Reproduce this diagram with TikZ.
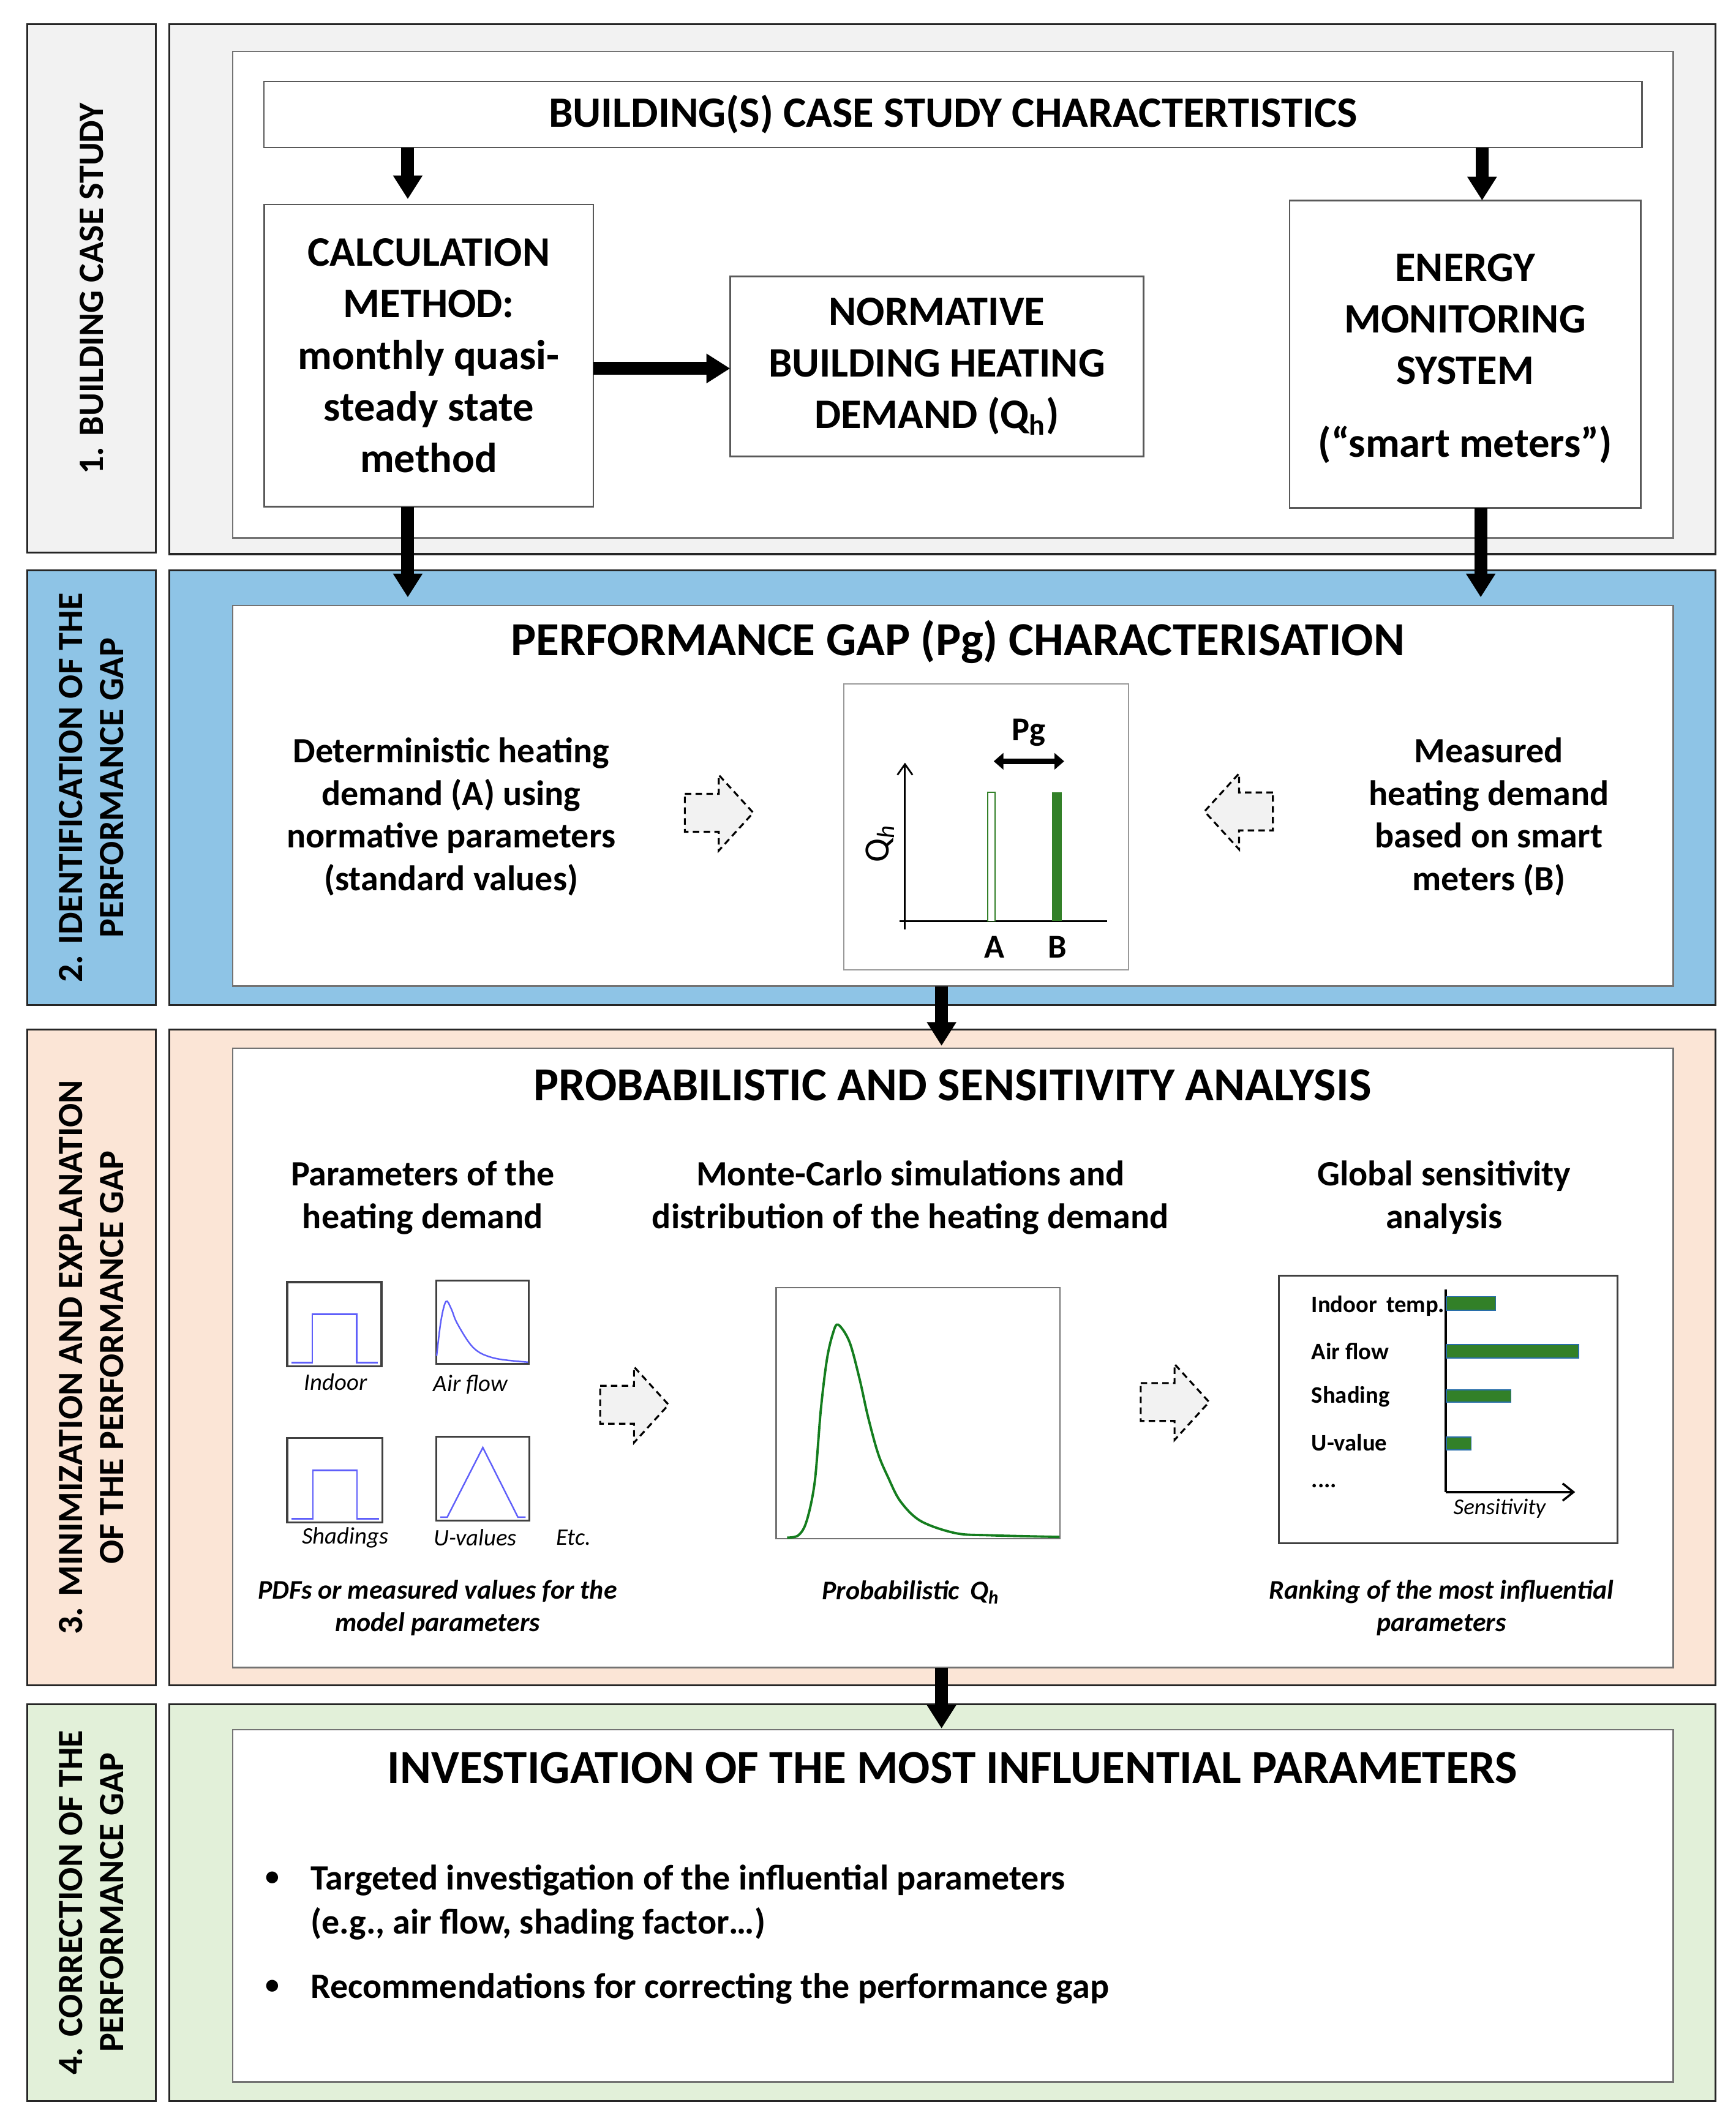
\documentclass[tikz,border=0pt]{standalone}
\usepackage{fontspec}
\setmainfont{Carlito}
\usetikzlibrary{arrows.meta}
\definecolor{panelgray}{RGB}{242,242,242}
\definecolor{panelblue}{RGB}{142,196,230}
\definecolor{panelpeach}{RGB}{251,229,214}
\definecolor{panelgreen}{RGB}{226,240,217}
\definecolor{bargreen}{RGB}{50,128,40}
\definecolor{curvegreen}{RGB}{20,125,30}
\definecolor{pdfblue}{RGB}{95,95,250}
\definecolor{barblue}{RGB}{40,110,170}
\newcommand\fs[2]{\fontsize{#1pt}{#2pt}\selectfont}
\newcommand\rectnode[7]{\node[#2, minimum width={((#5)-(#3))*0.62926pt}, minimum height={((#6)-(#4))*0.62926pt}] (#1) at ({((#3)+(#5))/2},{((#4)+(#6))/2}) {#7};}
\newcommand\blockR[2]{\draw[blockarrow] (#1,#2-14) -- (#1+25,#2-14) -- (#1+25,#2-28) -- (#1+50.5,#2) -- (#1+25,#2+28) -- (#1+25,#2+14) -- (#1,#2+14) -- cycle;}
\newcommand\blockL[2]{\draw[blockarrow] (#1,#2-14) -- (#1-25,#2-14) -- (#1-25,#2-28) -- (#1-50.5,#2) -- (#1-25,#2+28) -- (#1-25,#2+14) -- (#1,#2+14) -- cycle;}
\begin{document}
\begin{tikzpicture}[x=0.022116cm, y=-0.022116cm,
  panel/.style={draw=black!85, line width=0.9pt, inner sep=0pt, outer sep=0pt},
  innerbox/.style={draw=black!55, line width=0.7pt, fill=white, inner sep=0pt, outer sep=0pt},
  sbox/.style={draw=black!65, line width=0.7pt, fill=white, align=center, inner sep=0pt, outer sep=0pt, font=\fs{19.5}{23.9}\bfseries},
  collabel/.style={rotate=90, align=center, font=\fs{16.5}{18.9}\bfseries},
  title/.style={font=\fs{22}{26}\bfseries},
  midtext/.style={align=center, font=\fs{16.5}{19.8}\bfseries},
  caption/.style={align=center, font=\fs{12.5}{15.1}\bfseries\itshape},
  smalllabel/.style={font=\fs{11}{13}\itshape},
  senslabel/.style={anchor=west, font=\fs{11}{13}\bfseries, inner sep=0pt},
  bigarrow/.style={line width=6pt, -{Triangle[width=13pt,length=11pt]}},
  blockarrow/.style={draw=black, fill=panelgray, dashed, line width=0.9pt, dash pattern=on 3pt off 2pt},
  pdfbox/.style={draw=black!75, line width=0.9pt, fill=white, inner sep=0pt, outer sep=0pt},
  pdfline/.style={draw=pdfblue, line width=0.7pt},
  sensbar/.style={draw=barblue, fill=bargreen, line width=0.5pt}
]
\fill[white] (0,0) rectangle (1281,1568);
\useasboundingbox (0,0) rectangle (1281,1568);

% ---------- left label column ----------
\rectnode{lab1}{panel, fill=panelgray}{20}{18}{115}{408}{}
\rectnode{lab2}{panel, fill=panelblue}{20}{421}{115}{742}{}
\rectnode{lab3}{panel, fill=panelpeach}{20}{760}{115}{1244}{}
\rectnode{lab4}{panel, fill=panelgreen}{20}{1258}{115}{1551}{}
\node[collabel] (lab1t) at (lab1.center) {1. BUILDING CASE STUDY};
\node[collabel] (lab2t) at (lab2.center) {2. IDENTIFICATION OF THE\\PERFORMANCE GAP};
\node[collabel] (lab3t) at (lab3.center) {3. MINIMIZATION AND EXPLANATION\\OF THE PERFORMANCE GAP};
\node[collabel] (lab4t) at (lab4.center) {4. CORRECTION OF THE\\PERFORMANCE GAP};

% ---------- panels ----------
\rectnode{pan1}{panel, fill=panelgray}{125}{18}{1266}{409}{}
\rectnode{pan2}{panel, fill=panelblue}{125}{421}{1266}{742}{}
\rectnode{pan3}{panel, fill=panelpeach}{125}{760}{1266}{1244}{}
\rectnode{pan4}{panel, fill=panelgreen}{125}{1258}{1266}{1551}{}
\rectnode{in1}{innerbox}{172}{38}{1235}{397}{}
\rectnode{in2}{innerbox}{172}{447}{1235}{728}{}
\rectnode{in3}{innerbox}{172}{774}{1235}{1231}{}
\rectnode{in4}{innerbox}{172}{1277}{1235}{1537}{}

% ---------- panel 1 ----------
\rectnode{build}{sbox, font=\fs{20.1}{24}\bfseries}{195}{60}{1212}{109}{BUILDING(S) CASE STUDY CHARACTERTISTICS}
\rectnode{calc}{sbox}{195}{151}{438}{374}{CALCULATION\\METHOD:\\monthly quasi-\\steady state\\method}
\rectnode{norm}{sbox}{539}{204}{844}{337}{NORMATIVE\\BUILDING HEATING\\DEMAND (Q\textsubscript{h})}
\rectnode{energy}{sbox}{952}{148}{1211}{375}{\rule{0pt}{17pt}ENERGY\\MONITORING\\SYSTEM\\[10pt](“smart meters”)}

% ---------- panel 2 ----------
\node[title] (t2) at (707,474) {PERFORMANCE GAP (Pg) CHARACTERISATION};
\node[midtext] (det) at (333,603) {Deterministic heating\\demand (A) using\\normative parameters\\(standard values)};
\node[midtext] (meas) at (1099,603) {Measured\\heating demand\\based on smart\\meters (B)};
\blockR{505.5}{600}
\blockL{939.6}{599}
\rectnode{pgchart}{draw=black!40, line width=0.6pt, fill=white, inner sep=0pt, outer sep=0pt}{623}{505}{833}{716}{}
\coordinate (yax0) at (668,686);
\coordinate (yax1) at (668,563);
\coordinate (xax0) at (664,680);
\coordinate (xax1) at (817,680);
\draw[line width=0.8pt, -{Straight Barb[length=5pt,width=7pt]}] (yax0) -- (yax1);
\draw[line width=0.8pt] (xax0) -- (xax1);
\draw[draw=bargreen, line width=0.5pt, fill=white] (729,585) rectangle (734.6,680);
\fill[bargreen] (776.6,585) rectangle (783.6,680);
\coordinate (pgl) at (733.5,562);
\coordinate (pgr) at (785.5,562);
\draw[line width=2.6pt, {Triangle[width=7.5pt,length=4.5pt]}-{Triangle[width=7.5pt,length=4.5pt]}] (pgl) -- (pgr);
\node[font=\fs{15.5}{18}\bfseries] (pg) at (759.5,541) {Pg};
\node[font=\fs{15.5}{18}\bfseries] (la) at (734,699) {A};
\node[font=\fs{15.5}{18}\bfseries] (lb) at (780.5,699) {B};
\node[rotate=90, font=\fs{16.5}{18}] (qh) at (649.5,622.5) {Q\textsubscript{\textit{h}}};

% ---------- panel 3 ----------
\node[title] (t3) at (703,801) {PROBABILISTIC AND SENSITIVITY ANALYSIS};
\node[midtext, font=\fs{16.5}{20}\bfseries] (h1) at (312,884) {Parameters of the\\heating demand};
\node[midtext, font=\fs{16.5}{20}\bfseries] (h2) at (672,884) {Monte-Carlo simulations and\\distribution of the heating demand};
\node[midtext, font=\fs{16.5}{20}\bfseries] (h3) at (1066,884) {Global sensitivity\\analysis};

% PDF boxes
\rectnode{pdfa}{pdfbox}{212}{946.5}{281.6}{1008.8}{}
\draw[pdfline] (215,1006) -- (230.6,1006) -- (230.6,970.3) -- (263.2,970.3) -- (263.2,1006) -- (279,1006);
\rectnode{pdfb}{pdfbox}{322}{945.3}{390.3}{1006.8}{}
\draw[pdfline] plot[smooth, tension=0.6] coordinates {(322.3,1001) (325.5,975) (329.2,960.8) (333,966) (337,976) (345.6,990.3) (352.5,997.5) (361,1001.5) (371.6,1003.8) (389.8,1005.6)};
\rectnode{pdfc}{pdfbox}{212}{1061.5}{282.1}{1123.9}{}
\draw[pdfline] (215,1121.2) -- (231,1121.2) -- (231,1085.5) -- (263.4,1085.5) -- (263.4,1121.2) -- (280,1121.2);
\rectnode{pdfd}{pdfbox}{322}{1060.6}{390.6}{1122.6}{}
\draw[pdfline] (324.9,1120) -- (330.1,1120) -- (356.4,1068.6) -- (382.3,1120) -- (388,1120);
\node[smalllabel] (lia) at (247.8,1020.4) {Indoor};
\node[smalllabel] (lib) at (347.3,1022) {Air flow};
\node[smalllabel] (lic) at (254.8,1135.2) {Shadings};
\node[smalllabel] (lid) at (350.8,1135.2) {U-values};
\node[smalllabel] (lie) at (423.5,1135.2) {Etc.};
\node[caption] (cap1) at (323,1187) {PDFs or measured values for the\\model parameters};

\blockR{443}{1037}
\blockR{842}{1035}

% Monte Carlo chart
\rectnode{mcbox}{draw=black!55, line width=0.7pt, fill=white, inner sep=0pt, outer sep=0pt}{573}{950.5}{782.5}{1135.9}{}
\draw[draw=curvegreen, line width=1.1pt] plot[smooth, tension=0.55] coordinates {(581,1135.1) (589.3,1133.4) (595.4,1122.9) (601.4,1093.9) (605.9,1040.6) (610.4,1003.5) (614.9,984.1) (618.7,977.9) (627,990.5) (634.5,1018) (640.6,1045.4) (648.1,1072.9) (655.6,1090.7) (664.7,1108.4) (679.7,1122.9) (705.4,1131.8) (731,1133.4) (782,1134.6)};
\node[caption] (cap2) at (672.2,1175.4) {Probabilistic \,Q\textsubscript{h}};

% Sensitivity chart
\rectnode{sensbox}{pdfbox}{944}{941.7}{1194}{1139.4}{}
\coordinate (sax0) at (1067.1,1101.5);
\coordinate (sax1) at (1067.1,951.8);
\coordinate (sax2) at (1162.7,1101.5);
\draw[line width=1pt] (sax0) -- (sax1);
\draw[line width=1pt, -{Straight Barb[length=5pt,width=8pt]}] (sax0) -- (sax2);
\draw[sensbar] (1067.6,957.1) rectangle (1104,967.2);
\draw[sensbar] (1067.6,992.5) rectangle (1165.3,1002.6);
\draw[sensbar] (1067.6,1026.1) rectangle (1115.3,1035.1);
\draw[sensbar] (1067.6,1060.8) rectangle (1085.9,1070.4);
\node[senslabel] (s1) at (967.8,963.9) {Indoor\, temp.};
\node[senslabel] (s2) at (967.8,997.8) {Air flow};
\node[senslabel] (s3) at (967.8,1030.9) {Shading};
\node[senslabel] (s4) at (967.8,1064.8) {U-value};
\node[senslabel] (s5) at (967.8,1097) {....};
\node[font=\fs{10.5}{12}\itshape] (sens) at (1106.9,1113.8) {Sensitivity};
\node[caption] (cap3) at (1064,1187) {Ranking of the most influential\\parameters};

% ---------- panel 4 ----------
\node[title] (t4) at (703,1305) {INVESTIGATION OF THE MOST INFLUENTIAL PARAMETERS};
\node[font=\fs{13}{15}\bfseries] (b1) at (201,1387) {•};
\node[font=\fs{13}{15}\bfseries] (b2) at (201,1467) {•};
\node[anchor=west, inner sep=0pt, font=\fs{16.5}{19.8}\bfseries] (r1) at (229,1388) {Targeted investigation of the influential parameters};
\node[anchor=west, inner sep=0pt, font=\fs{16.5}{19.8}\bfseries] (r2) at (229,1420) {(e.g., air flow, shading factor…)};
\node[anchor=west, inner sep=0pt, font=\fs{16.5}{19.8}\bfseries] (r3) at (229,1468) {Recommendations for correcting the performance gap};

% ---------- connectors ----------
\coordinate (xa) at (301,0);
\coordinate (xb) at (1094,0);
\coordinate (xd) at (1093,0);
\coordinate (xm) at (695,0);
\coordinate (ya) at (0,272);
\draw[bigarrow, shorten >=2.5pt] (build.south -| xa) -- (calc.north -| xa);
\draw[bigarrow] (build.south -| xb) -- (energy.north -| xb);
\draw[bigarrow] (calc.east |- ya) -- (norm.west |- ya);
\draw[bigarrow, shorten >=3.8pt] (calc.south -| xa) -- (in2.north -| xa);
\draw[bigarrow, shorten >=3.8pt] (energy.south -| xd) -- (in2.north -| xd);
\draw[bigarrow, shorten >=1.2pt] (in2.south -| xm) -- (in3.north -| xm);
\draw[bigarrow, shorten >=0.6pt] (in3.south -| xm) -- (in4.north -| xm);
\end{tikzpicture}
\end{document}
